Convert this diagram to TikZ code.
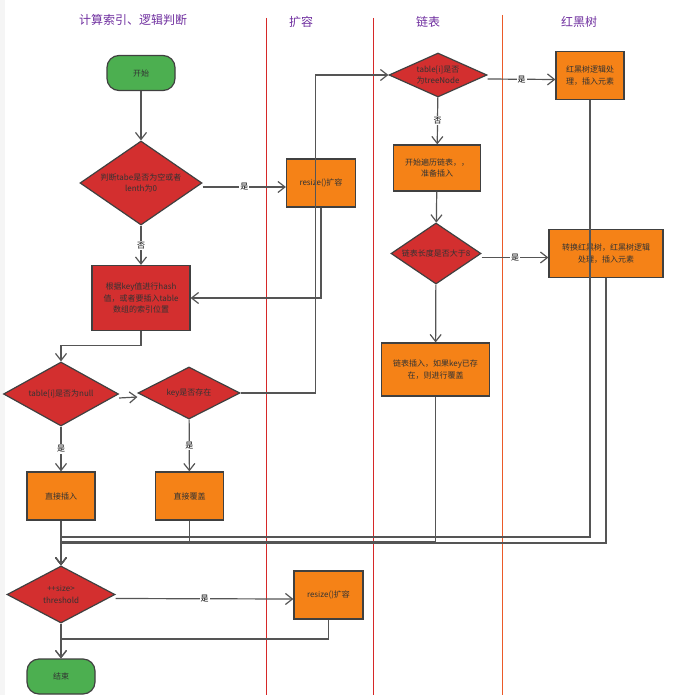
\documentclass[tikz,border=0pt]{standalone}
\usepackage{fontspec}
\setmainfont{Noto Sans CJK SC}
\usetikzlibrary{arrows.meta,shapes.geometric}

\definecolor{boxred}{RGB}{211,47,47}
\definecolor{boxorange}{RGB}{245,130,23}
\definecolor{boxgreen}{RGB}{76,175,80}
\definecolor{edgegray}{RGB}{64,64,64}
\definecolor{linegray}{RGB}{85,85,85}
\definecolor{lanered}{RGB}{214,40,40}
\definecolor{laneorange}{RGB}{235,90,40}
\definecolor{headpurple}{RGB}{112,48,160}

\begin{document}
\begin{tikzpicture}[
  x=1pt, y=-1pt,
  terminal/.style={rectangle, rounded corners=12pt, draw=edgegray, line width=1.2pt, fill=boxgreen, minimum width=68pt, minimum height=35pt, font=\fontsize{8}{11.5}\selectfont, text=black!80},
  process/.style={rectangle, draw=edgegray, line width=1.2pt, fill=boxorange, minimum width=68pt, minimum height=48pt, inner sep=2pt, align=center, font=\fontsize{8}{11.5}\selectfont, text=black!80},
  decision/.style={diamond, aspect=1.7, draw=edgegray, line width=1.2pt, fill=boxred, inner sep=0pt, align=center, font=\fontsize{8}{11.5}\selectfont, text=black!80},
  flow/.style={draw=linegray, line width=1.2pt, -{Straight Barb[length=7pt, width=11pt]}},
  edge label/.style={fill=white, inner sep=1pt, font=\fontsize{8}{9}\selectfont, text=black},
  lane/.style={line width=0.8pt},
  lane head/.style={text=headpurple, font=\fontsize{12}{14}\selectfont}
]
  \fill[white] (0,0) rectangle (683,695);
  \fill[gray!8] (0,0) rectangle (5,695);
  \useasboundingbox (0,0) rectangle (683,695);

  % swimlanes
  \draw[lane, lanered] (266,18) -- (266,695);
  \draw[lane, lanered] (373,18) -- (373,695);
  \draw[lane, laneorange] (502,15) -- (502,695);
  \node[lane head] (h1) at (133,20) {计算索引、逻辑判断};
  \node[lane head] (h2) at (301,22) {扩容};
  \node[lane head] (h3) at (428,22) {链表};
  \node[lane head] (h4) at (579,22) {红黑树};

  \node[terminal] (start) at (141,73) {开始};
  \node[decision, minimum width=122pt, minimum height=84pt] (empty) at (141,183) {判断tabe是否为空或者\\lenth为0};
  \node[process, minimum width=69pt] (grow) at (321,183) {resize()扩容};
  \node[process, fill=boxred, minimum width=98pt, minimum height=65pt] (hash) at (141,298) {根据key值进行hash\\值，或者要插入table\\数组的索引位置};
  \node[decision, minimum width=115pt, minimum height=64pt] (isnull) at (61,394) {table[i]是否为null};
  \node[decision, minimum width=102pt, minimum height=52pt] (haskey) at (189,393) {key是否存在};
  \node[process] (put) at (61,496) {直接插入};
  \node[process] (over) at (189.5,496) {直接覆盖};
  \node[decision, minimum width=108pt, minimum height=57pt] (size) at (61,594.5) {++size>\\threshold};
  \node[process, minimum width=69pt] (grow2) at (328.5,595) {resize()扩容};
  \node[terminal] (stop) at (61,676.5) {结束};

  \node[decision, aspect=2.2, minimum width=98pt, minimum height=44pt] (tree) at (438,75) {table[i]是否\\为treeNode};
  \node[process] (rbput) at (590,75.5) {红黑树逻辑处\\理，插入元素};
  \node[process, minimum width=87pt, minimum height=46pt] (walk) at (437,168) {开始遍历链表，，\\准备插入};
  \node[decision, minimum width=90pt, minimum height=61pt] (len) at (436,253.5) {链表长度是否大于8};
  \node[process, minimum width=114pt] (treeify) at (606,253.5) {转换红黑树，红黑树逻辑\\处理，插入元素};
  \node[process, minimum width=108pt, minimum height=53pt] (listput) at (435.5,369.5) {链表插入，如果key已存\\在，则进行覆盖};

  \coordinate (joinhigh) at (61,537);
  \coordinate (joinlow) at (61,542);
  \coordinate (joinend) at (61,639);

  \draw[flow] (start) -- (empty);
  \draw[flow] ([yshift=-4pt]empty.east) -- node[edge label] {是} ([yshift=-4pt]grow.west);
  \draw[flow] (empty) -- node[edge label] {否} (hash);
  \draw[flow] (grow.south) |- (hash.east);
  \draw[flow] (hash.south) -- ++(0,14) -| (isnull.north);
  \draw[flow] ([yshift=-4pt]isnull.east) -- ([yshift=-4pt]haskey.west);
  \draw[flow] (haskey.east) -- ++(75,0) |- (tree.west);
  \draw[flow] (isnull) -- node[edge label] {是} (put);
  \draw[flow] (haskey) -- node[edge label] {是} (over);
  \draw[flow] ([yshift=-4pt]tree.east) -- node[edge label] {是} ([yshift=-4pt]rbput.west);
  \draw[flow] (tree) -- node[edge label] {否} (walk);
  \draw[flow] (walk) -- (len);
  \draw[flow] ([yshift=-4pt]len.east) -- node[edge label] {是} ([yshift=-4pt]treeify.west);
  \draw[flow] (len) -- (listput);
  % everything joins before ++size
  \draw[flow] (put) -- (size);
  \draw[flow] (over.south) |- (joinlow) -- (size.north);
  \draw[flow] (listput.south) |- (joinlow) -- (size.north);
  \draw[flow] (rbput.south) |- (joinhigh) -- (size.north);
  \draw[flow] (treeify.south) |- ([yshift=-1pt]joinlow) -- (size.north);
  \draw[flow] ([yshift=-4pt]size.east) -- node[edge label] {是} ([yshift=-4pt]grow2.west);
  \draw[flow] (grow2.south) |- (joinend) -- (stop.north);
  \draw[flow] (size) -- (stop);
\end{tikzpicture}
\end{document}
